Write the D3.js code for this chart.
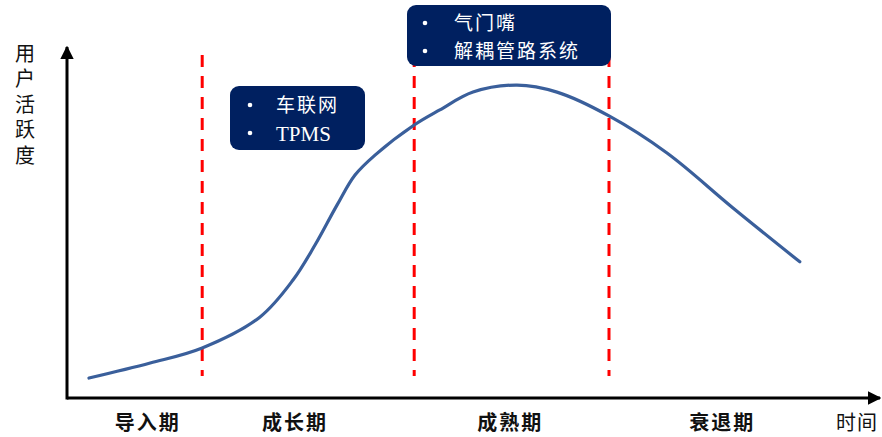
<!DOCTYPE html>
<html><head><meta charset="utf-8">
<script src="https://cdn.jsdelivr.net/npm/d3@7/dist/d3.min.js"></script>
<style>html,body{margin:0;padding:0;background:#fff;}svg{display:block;}</style>
</head><body>
<script>
// ---- data ----
const timeVals = [2.75, 10.4, 16.9, 24.1, 28.25, 31, 33.75, 36, 38.5, 43.4, 46.6, 50.75, 56.25, 61.25, 67.75, 75, 83.25, 91.6];
const activity = [5.7, 10, 14.3, 23.1, 33.7, 43.7, 55.1, 63.7, 69.4, 78, 82.3, 87.4, 89.4, 87.4, 80.6, 70, 54.3, 38.9];
const stageLabels = ["导入期", "成长期", "成熟期", "衰退期"];
const stagePos = [10.1, 28.5, 55.4, 81.9];
const dividers = [16.9, 43.4, 67.75];
const box1Items = ["车联网", "TPMS"];
const box2Items = ["气门嘴", "解耦管路系统"];
const yTitle = "用户活跃度";
const xTitle = "时间";

const W = 882, H = 437;
const svg = d3.select("body").append("svg").attr("width", W).attr("height", H);
const x = d3.scaleLinear().domain([0, 100]).range([67, 867]);
const y = d3.scaleLinear().domain([0, 100]).range([398, 48]);

const defs = svg.append("defs");
defs.append("marker").attr("id", "arr").attr("viewBox", "0 0 10 10").attr("refX", 9).attr("refY", 5)
  .attr("markerWidth", 4.5).attr("markerHeight", 4.5).attr("orient", "auto")
  .append("path").attr("d", "M0,0 L10,5 L0,10 Z").attr("fill", "#000");

// axes
svg.append("line").attr("x1", x(0)).attr("y1", y(0)).attr("x2", 880).attr("y2", y(0))
  .attr("stroke", "#000").attr("stroke-width", 3).attr("marker-end", "url(#arr)");
svg.append("line").attr("x1", x(0)).attr("y1", y(0) + 1.5).attr("x2", x(0)).attr("y2", 47)
  .attr("stroke", "#000").attr("stroke-width", 3).attr("marker-end", "url(#arr)");

// dividers
svg.selectAll("line.div").data(dividers).join("line").attr("class", "div")
  .attr("x1", d => x(d)).attr("x2", d => x(d)).attr("y1", 55).attr("y2", 376)
  .attr("stroke", "#ff0000").attr("stroke-width", 3).attr("stroke-dasharray", "12,9");

// curve
const pts = timeVals.map((t, i) => [t, activity[i]]);
svg.append("path").datum(pts)
  .attr("d", d3.line().x(d => x(d[0])).y(d => y(d[1])).curve(d3.curveCatmullRom.alpha(0.5)))
  .attr("fill", "none").attr("stroke", "#3a5f9b").attr("stroke-width", 3.2).attr("stroke-linecap", "round");

const cjk = "'Noto Sans CJK SC','Noto Sans',sans-serif";

// boxes
function box(x0, y0, w, h, items, bulletX, textX, lineYs) {
  const g = svg.append("g");
  g.append("rect").attr("x", x0).attr("y", y0).attr("width", w).attr("height", h)
    .attr("rx", 9).attr("fill", "#002060");
  items.forEach((t, i) => {
    g.append("circle").attr("cx", bulletX).attr("cy", lineYs[i]).attr("r", 2.3).attr("fill", "#fff");
    const isLatin = /^[A-Za-z]+$/.test(t);
    g.append("text").attr("x", textX).attr("y", lineYs[i]).attr("dy", "0.36em")
      .attr("fill", "#fff")
      .attr("font-family", isLatin ? "'Liberation Serif',serif" : cjk)
      .attr("font-size", isLatin ? 21 : 19)
      .attr("letter-spacing", isLatin ? 0 : 2)
      .text(t);
  });
}
box(230, 86, 135, 64, box1Items, 250, 276, [105, 133]);
box(407, 5, 204, 61, box2Items, 425, 454, [23, 51]);

// stage labels
svg.selectAll("text.stage").data(stageLabels).join("text").attr("class", "stage")
  .attr("x", (d, i) => x(stagePos[i])).attr("y", 423).attr("dy", "0.36em")
  .attr("text-anchor", "middle").attr("font-family", cjk).attr("font-size", 20)
  .attr("font-weight", "bold").attr("letter-spacing", 2).attr("fill", "#111").text(d => d);

svg.append("text").attr("x", 857).attr("y", 423).attr("dy", "0.36em").attr("text-anchor", "middle")
  .attr("font-family", cjk).attr("font-size", 20).attr("fill", "#111").attr("letter-spacing", 1).text(xTitle);

// y title vertical
svg.append("text").attr("x", 25).attr("y", 43)
  .attr("style", "writing-mode: vertical-rl; text-orientation: upright;")
  .attr("font-family", cjk).attr("font-size", 20).attr("letter-spacing", 5.5).attr("fill", "#111").text(yTitle);
</script>
</body></html>
